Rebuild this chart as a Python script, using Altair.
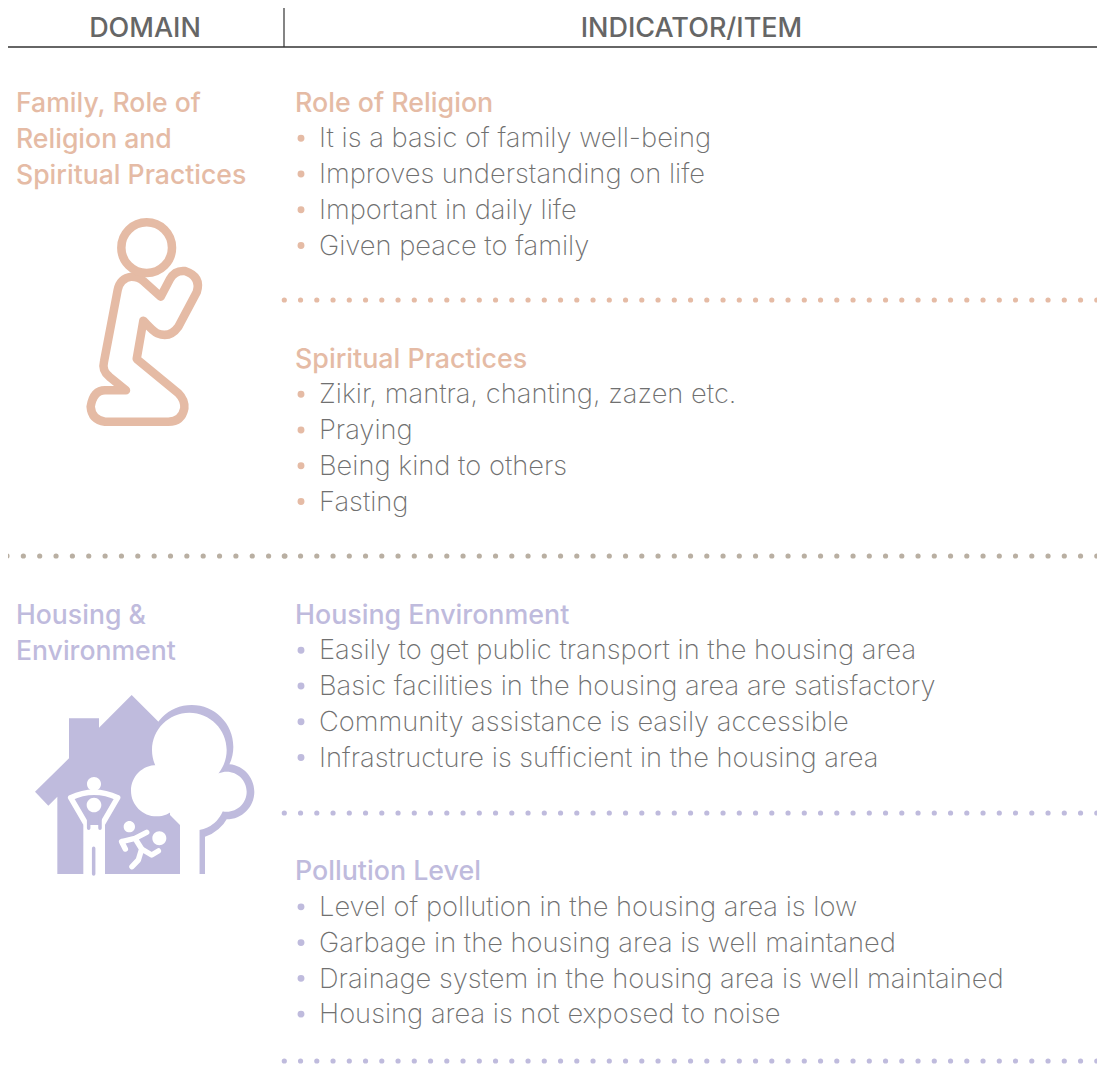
import altair as alt
import pandas as pd

# ---- content ----
headers = ["DOMAIN", "INDICATOR/ITEM"]
domains = [["Family, Role of", "Religion and", "Spiritual Practices"], ["Housing &", "Environment"]]
sec_titles = ["Role of Religion", "Spiritual Practices", "Housing Environment", "Pollution Level"]
sec_items = [
    ["It is a basic of family well-being", "Improves understanding on life", "Important in daily life", "Given peace to family"],
    ["Zikir, mantra, chanting, zazen etc.", "Praying", "Being kind to others", "Fasting"],
    ["Easily to get public transport in the housing area", "Basic facilities in the housing area are satisfactory",
     "Community assistance is easily accessible", "Infrastructure is sufficient in the housing area"],
    ["Level of pollution in the housing area is low", "Garbage in the housing area is well maintaned",
     "Drainage system in the housing area is well maintained", "Housing area is not exposed to noise"],
]

PEACH, LILAC, BEIGE, GRAY, DARK, HEAD = "#E5BBA5", "#BFBBDD", "#B9AFA2", "#707070", "#333333", "#666666"
FONT = "Inter"
W, H = 1089, 1056
sx = alt.Scale(domain=[8, 8 + W], nice=False, zero=False)
sy = alt.Scale(domain=[8, 8 + H], nice=False, zero=False, reverse=True)
X = lambda f="x": alt.X(f"{f}:Q", scale=sx, axis=None)
Y = lambda f="y": alt.Y(f"{f}:Q", scale=sy, axis=None)
layers = []


def texts(rows, size, weight, color, align="left"):
    return alt.Chart(pd.DataFrame(rows)).mark_text(
        font=FONT, fontSize=size, fontWeight=weight, color=color, align=align, baseline="alphabetic"
    ).encode(x=X(), y=Y(), text="t:N")


# header
layers.append(alt.Chart(pd.DataFrame({"x": [5], "x2": [1098], "y": [47]})).mark_rule(color=DARK, strokeWidth=1.5)
              .encode(x=X(), x2="x2:Q", y=Y()))
layers.append(alt.Chart(pd.DataFrame({"x": [284], "y": [5], "y2": [47]})).mark_rule(color=DARK, strokeWidth=1.2)
              .encode(x=X(), y=Y(), y2="y2:Q"))
layers.append(texts([{"x": 145, "y": 36.5, "t": headers[0]}, {"x": 691.5, "y": 36.5, "t": headers[1]}], 27, 500, HEAD, "center"))

# domain titles
dom_base = [112, 624]
dom_col = [PEACH, LILAC]
for d, b, c in zip(domains, dom_base, dom_col):
    layers.append(texts([{"x": 16, "y": b + 36 * i, "t": s} for i, s in enumerate(d)], 26.6, 500, c))

# sections
sec_base = [111.7, 367.7, 623.7, 880.3]
sec_col = [PEACH, PEACH, LILAC, LILAC]
for title, items, b, c in zip(sec_titles, sec_items, sec_base, sec_col):
    layers.append(texts([{"x": 295, "y": b, "t": title}], 26.8, 500, c))
    ys = [b + 35.75 * (i + 1) for i in range(len(items))]
    layers.append(texts([{"x": 319, "y": y, "t": s} for y, s in zip(ys, items)], 27.3, 200, GRAY))
    layers.append(alt.Chart(pd.DataFrame({"x": [301] * len(ys), "y": [y - 9.2 for y in ys]}))
                  .mark_circle(size=48, color=c, opacity=1).encode(x=X(), y=Y()))

# dotted separators
for x0, x1, y, c, step in [(7, 288, 556, BEIGE, 16.35), (284.3, 1100, 556, BEIGE, 16.25), (284.3, 1100, 300, PEACH, 16.25),
                           (284.3, 1100, 813, LILAC, 16.25), (284.3, 1100, 1061, LILAC, 16.25)]:
    layers.append(alt.Chart(pd.DataFrame({"x": [x0], "x2": [x1], "y": [y]}))
                  .mark_rule(color=c, strokeWidth=5.2, strokeCap="round", strokeDash=[0, step])
                  .encode(x=X(), x2="x2:Q", y=Y()))


def circ(cx, cy, r):
    return f"M{cx - r},{cy} A{r},{r} 0 1 1 {cx + r},{cy} A{r},{r} 0 1 1 {cx - r},{cy} Z "


def glyph(path, ox, oy, fill=None, stroke=None, sw=0):
    props = dict(shape=path, size=4 / 9, opacity=1)
    if fill:
        props.update(filled=True, fill=fill, stroke=fill if stroke is None else stroke, strokeWidth=sw)
    else:
        props.update(filled=False, stroke=stroke, strokeWidth=sw, strokeJoin="round", strokeCap="round")
    return alt.Chart(pd.DataFrame({"x": [ox], "y": [oy]})).mark_point(**props).encode(x=X(), y=Y())


# praying figure icon
figure = ("M168,556 L118,515 Q95,497 102,470 L143,255 Q150,220 185,215 Q205,215 220,228 L272,275 L300,222 "
          "Q315,195 345,198 Q395,215 380,262 L325,365 Q300,400 262,385 Q250,380 220,347 L200,462 L325,565 "
          "Q345,585 343,610 Q335,650 295,650 L105,650 Q65,645 62,605 Q70,556 105,556 Z")
layers.append(glyph(figure, 70, 205, stroke=PEACH, sw=8.5))
layers.append(glyph(circ(230, 128, 76), 70, 205, stroke=PEACH, sw=8.5))

# house and tree icon
house = "M45,320 L147,220 L147,100 L237,100 L237,128 L335,30 L480,175 L480,567 L112,567 L112,335 L85,362 Z"
tree_out = circ(515, 185, 125) + circ(620, 320, 83) + "M555,567 L538,567 L538,300 L640,300 L625,395 Q600,440 555,455 Z"
tree_in = (circ(508, 195, 112) + circ(410, 317, 77) + circ(620, 320, 60) +
           "M450,300 L620,270 L610,375 Q590,425 538,435 L538,567 L480,567 L480,420 L450,390 Z")
people = (circ(222, 297, 21) + circ(222, 360, 22) + circ(328, 425, 17) + circ(418, 460, 21) +
          "M190,420 L255,420 L255,567 L190,567 Z")
for p, col in [(house, LILAC), (tree_out, LILAC), (tree_in, "white"), (people, "white")]:
    layers.append(glyph(p, 20, 685, fill=col))
limbs = ("M152,338 Q222,305 293,338 M152,338 L197,415 M293,338 L248,415 "
         "M305,470 L345,460 L380,442 M305,470 L316,492 M345,460 L365,492 L395,510 L415,498 M365,492 L355,525 L336,545")
layers.append(glyph(limbs, 20, 685, stroke="white", sw=5.5))
gaps = "M206,388 L206,430 M240,388 L240,430 M221,490 L221,567"
layers.append(glyph(gaps, 20, 685, stroke=LILAC, sw=3.5))

chart = alt.layer(*layers).properties(width=W, height=H, padding=0, autosize=alt.AutoSizeParams(type="none"),
                                      background="white").configure_view(stroke=None)

chart.save("out.html", embed_options={"renderer": "svg", "actions": False})
